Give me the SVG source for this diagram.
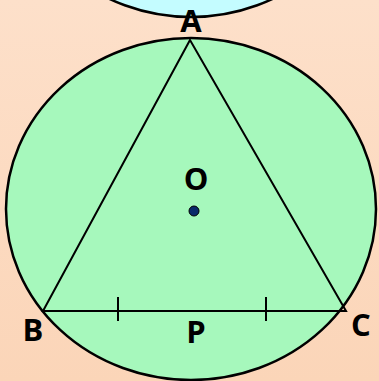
<svg xmlns="http://www.w3.org/2000/svg" width="379" height="381" viewBox="0 0 379 381">
<defs>
<linearGradient id="bg" x1="0" y1="0" x2="0" y2="1">
<stop offset="0" stop-color="#fde0ca"/>
<stop offset="1" stop-color="#fbd5b8"/>
</linearGradient>
</defs>
<style>
.lbl{font-family:"Open Sans","Liberation Sans",sans-serif;font-weight:bold;font-size:31px;fill:#000;text-anchor:middle}
.ln{stroke:#000;stroke-width:2;fill:none}
</style>
<rect width="379" height="381" fill="url(#bg)"/>
<g id="topCircle"><ellipse cx="191" cy="-150" rx="180" ry="167" fill="#c4fcff" stroke="#000" stroke-width="2.5"/></g>
<g id="circle"><ellipse cx="191" cy="209" rx="185" ry="171" fill="#a6f8bc" stroke="#000" stroke-width="2.5"/></g>
<g id="connectors">
<polygon class="ln" points="190,40 43,311 346,311"/>
<line class="ln" x1="118" y1="297" x2="118" y2="321"/>
<line class="ln" x1="266" y1="297" x2="266" y2="321"/>
</g>
<g id="O"><circle cx="194" cy="211" r="5" fill="#0a2a6a" stroke="#000" stroke-width="1"/><text class="lbl" x="196" y="190">O</text></g>
<g id="A"><text class="lbl" x="191" y="32">A</text></g>
<g id="B"><text class="lbl" x="33" y="341">B</text></g>
<g id="P"><text class="lbl" x="196" y="343">P</text></g>
<g id="C"><text class="lbl" x="361" y="336">C</text></g>
</svg>
